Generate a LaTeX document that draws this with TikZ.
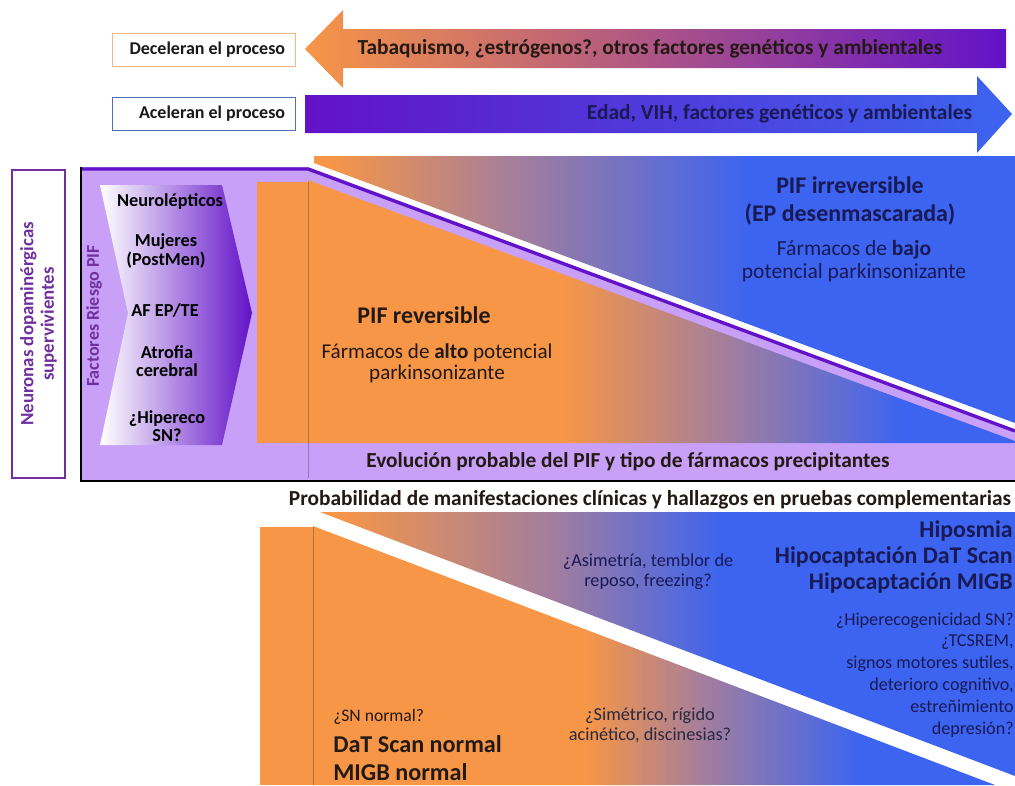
\documentclass[tikz,border=0pt]{standalone}
\usepackage{fontspec}
\setmainfont{Carlito}
\usepackage{tikz}
\usetikzlibrary{positioning}
\definecolor{naranja}{RGB}{247,150,70}
\definecolor{azulpif}{RGB}{60,100,240}
\definecolor{moradopif}{RGB}{98,18,200}
\definecolor{lilapif}{RGB}{200,160,248}
\definecolor{malva}{RGB}{160,125,160}
\definecolor{textoazul}{RGB}{25,25,85}
\definecolor{textoosc}{RGB}{35,25,20}
\definecolor{moradotexto}{RGB}{112,48,160}
\definecolor{cajaazul}{RGB}{80,110,190}
\newcommand{\pifsize}[2]{\fontsize{#1}{#2}\selectfont}
% degradados horizontales (naranja -> azul)
\pgfdeclarehorizontalshading{fadesup}{100bp}{color(0bp)=(naranja); color(26bp)=(naranja); color(40bp)=(malva); color(56bp)=(azulpif); color(100bp)=(azulpif)}
\pgfdeclarehorizontalshading{fadeinf}{100bp}{color(0bp)=(naranja); color(43bp)=(naranja); color(55bp)=(malva); color(67bp)=(azulpif); color(100bp)=(azulpif)}
\pgfdeclarehorizontalshading{fadesupb}{100bp}{color(0bp)=(naranja); color(26bp)=(naranja); color(42bp)=(malva); color(54bp)=(azulpif); color(100bp)=(azulpif)}
\pgfdeclarehorizontalshading{fadeinfb}{100bp}{color(0bp)=(naranja); color(45bp)=(naranja); color(54bp)=(malva); color(65bp)=(azulpif); color(100bp)=(azulpif)}
\begin{document}
\begin{tikzpicture}[x=0.025cm,y=-0.025cm,
    caja/.style={draw,fill=white,line width=0.6pt,minimum width=4.575cm,minimum height=0.825cm},
    cajatxt/.style={font=\pifsize{12.8pt}{14pt}\bfseries,inner sep=0pt,text=black!90},
    flechatxt/.style={font=\pifsize{15.2pt}{17pt}\bfseries,text=textoosc},
    riesgo/.style={font=\pifsize{13pt}{13pt}\bfseries,align=center,inner sep=0pt},
    titulo/.style={font=\pifsize{17pt}{20pt}\bfseries,align=center},
    normal/.style={font=\pifsize{15.3pt}{16.5pt},align=center},
    chico/.style={font=\pifsize{13pt}{14pt},align=center,text=textoazul}]
\useasboundingbox (0,0) rectangle (1015,785);

% flecha que frena el proceso
\shade[left color=naranja,right color=moradopif] (305,49) -- (343,10) -- (343,29) -- (1006,29)
    -- (1006,68) -- (343,68) -- (343,88) -- cycle;
\node[flechatxt] (frenan) at (650,49) {Tabaquismo, ¿estrógenos?, otros factores genéticos y ambientales};
\node[caja,draw=naranja!70] (decel) at (203.5,49.5) {};
\node[cajatxt,left=0.25cm of decel.east] (deceltxt) {Deceleran el proceso};

% flecha que acelera el proceso
\shade[left color=moradopif,right color=azulpif] (305,95) -- (977,95) -- (977,76) -- (1012,114)
    -- (977,153) -- (977,133) -- (305,133) -- cycle;
\node[flechatxt,anchor=east,text=textoazul] (aceleran) at (977,114) {Edad, VIH, factores genéticos y ambientales};
\node[caja,draw=cajaazul] (acel) at (203.5,113.5) {};
\node[cajatxt,left=0.25cm of acel.east] (aceltxt) {Aceleran el proceso};

% etiqueta lateral
\node[draw=moradotexto,line width=0.8pt,rotate=90,minimum width=7.7cm,minimum height=1.325cm,align=center,
    font=\pifsize{13.4pt}{14.5pt}\bfseries,text=moradotexto] (neuronas) at (38.5,324)
    {Neuronas dopaminérgicas\\supervivientes};

% panel del PIF
\fill[lilapif] (81,167) -- (308,167) -- (1015,430) -- (1015,481) -- (81,481) -- cycle;
\shade[shading=fadesup] (314,156) -- (1015,156) -- (1015,423) -- (314,163) -- cycle;
\shade[shading=fadeinf] (308,180) -- (1015,441) -- (1015,443) -- (308,443) -- cycle;
\fill[naranja] (257,182) rectangle (308,443);
\draw[moradopif,line width=2.4pt] (81,169) -- (308,169) -- (1015,431);
\draw[black,opacity=0.25,line width=0.5pt] (308,182) -- (308,478);
\draw[line width=2pt] (81,167) -- (81,481) -- (1015,481);

% factores de riesgo
\shade[left color=white,right color=moradopif] (100,185) -- (222,185) -- (252,313) -- (222,445)
    -- (100,445) -- (128,313) -- cycle;
\node[rotate=90,font=\pifsize{12.8pt}{14pt}\bfseries,text=moradotexto] (factores) at (94,316) {Factores Riesgo PIF};
\node[riesgo] (neurolep) at (170,202) {Neurolépticos};
\node[riesgo] (mujeres) at (166,251) {Mujeres\\(PostMen)};
\node[riesgo] (afep) at (165,310) {AF EP/TE};
\node[riesgo] (atrofia) at (167,361) {Atrofia\\cerebral};
\node[riesgo] (hipereco) at (167,426) {¿Hipereco\\SN?};

% textos del panel
\node[titulo,text=textoosc] (reversible) at (424,315) {PIF reversible};
\node[normal,text=textoosc,font=\pifsize{15pt}{15pt}] (altopot) at (437,363) {Fármacos de \textbf{alto} potencial\\parkinsonizante};
\node[titulo,text=textoazul] (irrev) at (850,201) {PIF irreversible\\(EP desenmascarada)};
\node[normal,text=textoazul] (bajopot) at (854,261) {Fármacos de \textbf{bajo}\\potencial parkinsonizante};
\node[flechatxt] (evolucion) at (628,462) {Evolución probable del PIF y tipo de fármacos precipitantes};

% manifestaciones clinicas
\node[flechatxt] (probab) at (650,500) {Probabilidad de manifestaciones clínicas y hallazgos en pruebas complementarias};
\shade[shading=fadesupb] (320,512) -- (1015,512) -- (1015,776) -- cycle;
\shade[shading=fadeinfb] (313,526) -- (995,785) -- (313,785) -- cycle;
\fill[naranja] (260,527) rectangle (313,785);
\draw[black,opacity=0.25,line width=0.5pt] (313,527) -- (313,785);

\node[chico] (asim) at (648,572) {¿Asimetría, temblor de\\reposo, freezing?};
\node[chico,text=textoosc!80!azulpif] (simet) at (650,725) {¿Simétrico, rígido\\acinético, discinesias?};
\node[font=\pifsize{17pt}{18.5pt}\bfseries,align=right,anchor=east,text=textoazul,inner sep=0pt] (hipos) at (1013,557)
    {Hiposmia\\Hipocaptación DaT Scan\\Hipocaptación MIGB};
\node[chico,align=right,anchor=east,inner sep=0pt,font=\pifsize{12.9pt}{15.6pt}] (signos) at (1014,675)
    {¿Hiperecogenicidad SN?\\¿TCSREM,\\signos motores sutiles,\\deterioro cognitivo,\\estreñimiento\\depresión?};
\node[anchor=west,inner sep=0pt,font=\pifsize{12.5pt}{14pt},text=textoosc] (snnormal) at (333,717) {¿SN normal?};
\node[anchor=west,inner sep=0pt,font=\pifsize{17.2pt}{20pt}\bfseries,text=textoosc] (datnormal) at (333,744) {DaT Scan normal};
\node[anchor=west,inner sep=0pt,font=\pifsize{17.2pt}{20pt}\bfseries,text=textoosc] (migbnormal) at (333,772) {MIGB normal};
\end{tikzpicture}
\end{document}
